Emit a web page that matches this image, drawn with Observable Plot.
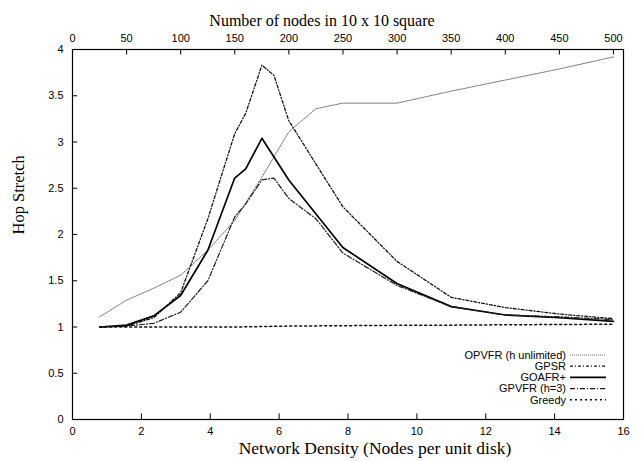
<!DOCTYPE html>
<html><head><meta charset="utf-8">
<script src="https://cdn.jsdelivr.net/npm/d3@7"></script>
<script src="https://cdn.jsdelivr.net/npm/@observablehq/plot@0.6"></script>
<style>body{margin:0;background:#fff} #chart{width:641px;height:461px}</style>
</head><body><div id="chart"></div>
<script>
// Network density (nodes per unit disk) at each measured point
const density = [0.79,1.57,2.36,3.14,3.93,4.71,5.03,5.50,5.85,6.28,7.07,7.85,9.42,11.0,12.57,14.14,15.71];
// Hop stretch per algorithm (null = no visible point)
const opvfr  = [1.11,1.29,1.42,1.56,1.83,2.15,null,2.62,null,3.11,3.36,3.42,3.42,3.55,3.67,3.79,3.92];
const gpsr   = [1.00,1.01,1.10,1.37,2.17,3.09,3.31,3.83,3.72,3.23,null,2.30,1.71,1.32,1.21,1.14,1.09];
const goafr  = [1.00,1.02,1.12,1.34,1.83,2.61,2.71,3.04,null,2.59,null,1.86,1.47,1.22,1.13,1.10,1.06];
const gpvfr  = [1.00,1.01,1.04,1.16,1.50,2.19,2.33,2.59,2.61,2.39,2.17,1.80,1.45,1.22,1.13,1.11,1.08];
const greedy = [1.00,1.00,1.00,1.00,1.00,1.00,null,1.005,null,1.01,null,1.014,1.018,1.02,1.024,1.027,1.03];

const seriesNames = ["OPVFR (h unlimited)","GPSR","GOAFR+","GPVFR (h=3)","Greedy"];
const seriesValues = [opvfr, gpsr, goafr, gpvfr, greedy];
const seriesStroke = ["#707070","#111","#000","#1a1a1a","#111"];
const seriesWidth = [1, 1.3, 1.7, 1.2, 1.5];
const seriesDash = ["1,1","3,2,1,2",null,"5,2,1,2","2,3"];

const xTicks = [0,2,4,6,8,10,12,14,16];
const yTicks = [0,0.5,1,1.5,2,2.5,3,3.5,4];
const nodeTicks = [0,50,100,150,200,250,300,350,400,450,500];
const nodesToDensity = Math.PI / 100; // nodes in 10x10 square -> nodes per unit disk

const rows = [];
seriesNames.forEach((name, s) => {
  density.forEach((x, i) => {
    const v = seriesValues[s][i];
    if (v != null) rows.push({series: name, x, y: v});
  });
});

const serif = "'Liberation Serif','Times New Roman',serif";
const sans = "'Liberation Sans',Arial,Helvetica,sans-serif";
const topPos = nodeTicks.map(n => n * nodesToDensity);

const lineMarks = seriesNames.map((name, s) =>
  Plot.line(rows.filter(r => r.series === name), {
    x: "x", y: "y", stroke: seriesStroke[s], strokeWidth: seriesWidth[s],
    strokeDasharray: seriesDash[s] || undefined
  })
);

const plot = Plot.plot({
  width: 641, height: 461,
  marginLeft: 72, marginRight: 18, marginTop: 49, marginBottom: 42,
  x: {domain: [0, 16]},
  y: {domain: [0, 4]},
  style: {fontFamily: sans, fontSize: "11px", background: "#fff", color: "#000"},
  marks: [
    Plot.axisX(xTicks, {anchor: "bottom", tickSize: 0, tickPadding: 8, label: null, fontSize: 11}),
    Plot.text(topPos, {x: d => d, text: (d, i) => String(nodeTicks[i]), frameAnchor: "top",
      lineAnchor: "bottom", dy: -8, fontSize: 11}),
    Plot.axisY(yTicks, {anchor: "left", tickSize: 0, tickPadding: 9, label: null, fontSize: 11,
      tickFormat: d => String(d)}),
    Plot.ruleX(xTicks.slice(1, -1), {y1: 0, y2: 0.06, stroke: "#000"}),
    Plot.ruleX(topPos.slice(1), {y1: 4, y2: 3.94, stroke: "#000"}),
    Plot.ruleY(yTicks.slice(1, -1), {x1: 0, x2: 0.15, stroke: "#000"}),
    ...lineMarks,
    Plot.frame({stroke: "#000", strokeWidth: 1.2}),
    Plot.text(["Number of nodes in 10 x 10 square"], {frameAnchor: "top", dx: -26, dy: -35, fontFamily: serif, fontSize: 16}),
    Plot.text(["Network Density (Nodes per unit disk)"], {frameAnchor: "bottom", dx: 27, dy: 34, fontFamily: serif, fontSize: 17.5}),
    Plot.text(["Hop Stretch"], {frameAnchor: "left", dx: -54, dy: 0, rotate: -90, fontFamily: serif, fontSize: 16.5})
  ]
});

// Legend inside the plot, lower right
const svg = d3.select(plot);
const lg = svg.append("g").attr("font-family", sans).attr("font-size", 11);
seriesNames.forEach((name, s) => {
  const y = 355 + s * 11.2;
  lg.append("text").attr("x", 566).attr("y", y).attr("dy", "0.35em")
    .attr("text-anchor", "end").text(name);
  lg.append("line").attr("x1", 570).attr("x2", 606).attr("y1", y).attr("y2", y)
    .attr("stroke", seriesStroke[s]).attr("stroke-width", seriesWidth[s])
    .attr("stroke-dasharray", seriesDash[s]);
});

document.getElementById("chart").appendChild(plot);
</script>
</body></html>
